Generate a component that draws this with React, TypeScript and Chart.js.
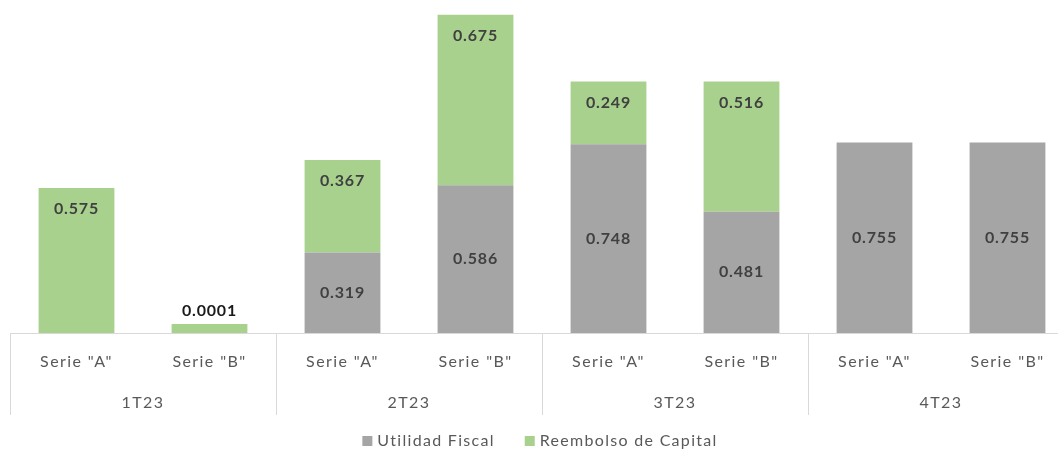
import React, { useEffect, useRef } from "react";
import { Chart, registerables } from "chart.js";

Chart.register(...registerables);

const categories = ['Serie "A"', 'Serie "B"', 'Serie "A"', 'Serie "B"', 'Serie "A"', 'Serie "B"', 'Serie "A"', 'Serie "B"'];
const quarters = ["1T23", "2T23", "3T23", "4T23"];
const utilidadFiscal: (number | null)[] = [null, null, 0.319, 0.586, 0.748, 0.481, 0.755, 0.755];
const reembolsoCapital: (number | null)[] = [0.575, 0.0001, 0.367, 0.675, 0.249, 0.516, null, null];
const seriesNames = ["Utilidad Fiscal", "Reembolso de Capital"];
const seriesColors = ["#a5a5a5", "#a9d18e"];

const FONT = "Lato, 'Open Sans', sans-serif";

const spacingPlugin = {
  id: "letterSpacing",
  beforeDraw(chart: any) {
    (chart.ctx as any).letterSpacing = "1.4px";
  },
};

const labelsPlugin = {
  id: "valueLabels",
  afterDatasetsDraw(chart: any) {
    const ctx = chart.ctx;
    ctx.save();
    ctx.letterSpacing = "0.8px";
    ctx.textAlign = "center";
    ctx.textBaseline = "middle";
    chart.data.datasets.forEach((ds: any, di: number) => {
      const meta = chart.getDatasetMeta(di);
      meta.data.forEach((bar: any, i: number) => {
        const v = ds.data[i];
        if (v == null) return;
        const { x, y, base } = bar.getProps(["x", "y", "base"], true);
        const h = base - y;
        let ty: number;
        if (di === 0) ty = (y + base) / 2;
        else if (h < 30) ty = y - 13;
        else ty = y + 21;
        ctx.fillStyle = h < 30 ? "#1a1a1a" : "#404040";
        ctx.font = `bold 16px ${FONT}`;
        ctx.fillText(String(v), x, ty);
      });
    });
    ctx.restore();
  },
};

const axisPlugin = {
  id: "groupAxis",
  afterDraw(chart: any) {
    const ctx = chart.ctx;
    const { left, right, bottom } = chart.chartArea;
    const catW = (right - left) / categories.length;
    ctx.save();
    ctx.strokeStyle = "#d9d9d9";
    ctx.lineWidth = 1;
    for (let g = 0; g <= quarters.length; g++) {
      const x = Math.round(left + g * 2 * catW) + 0.5;
      ctx.beginPath();
      ctx.moveTo(x, bottom);
      ctx.lineTo(x, bottom + 82);
      ctx.stroke();
    }
    ctx.letterSpacing = "1.4px";
    ctx.fillStyle = "#595959";
    ctx.font = `16px ${FONT}`;
    ctx.textAlign = "center";
    ctx.textBaseline = "middle";
    quarters.forEach((q, g) => {
      ctx.fillText(q, left + (g * 2 + 1) * catW, bottom + 70);
    });
    // legend
    ctx.letterSpacing = "1.3px";
    ctx.textAlign = "left";
    const ly = 441;
    const items = seriesNames.map((n) => ({ n, w: ctx.measureText(n).width }));
    const box = 10;
    const gapBox = 5;
    const gapItem = 30;
    const total = items.reduce((s, it) => s + box + gapBox + it.w, 0) + gapItem * (items.length - 1);
    let cx = (left + right) / 2 - 2 - total / 2;
    items.forEach((it, i) => {
      ctx.fillStyle = seriesColors[i];
      ctx.fillRect(cx, ly - box / 2, box, box);
      cx += box + gapBox;
      ctx.fillStyle = "#595959";
      ctx.fillText(it.n, cx, ly);
      cx += it.w + gapItem;
    });
    ctx.restore();
  },
};

export default function App() {
  const ref = useRef<HTMLCanvasElement>(null);
  useEffect(() => {
    if (!ref.current) return;
    const chart = new Chart(ref.current, {
      type: "bar",
      data: {
        labels: categories,
        datasets: [
          {
            label: seriesNames[0],
            data: utilidadFiscal,
            backgroundColor: seriesColors[0],
            barPercentage: 0.57,
            categoryPercentage: 1,
          },
          {
            label: seriesNames[1],
            data: reembolsoCapital,
            backgroundColor: seriesColors[1],
            barPercentage: 0.57,
            categoryPercentage: 1,
            minBarLength: 9,
          },
        ],
      },
      options: {
        responsive: false,
        animation: false,
        layout: { padding: { left: 10, right: 1, top: 5, bottom: 0 } },
        plugins: { legend: { display: false }, tooltip: { enabled: false } },
        scales: {
          x: {
            stacked: true,
            grid: { display: false, drawTicks: false },
            border: { display: true, color: "#d9d9d9", width: 1 },
            ticks: { color: "#595959", font: { family: FONT, size: 16 }, padding: 19, maxRotation: 0, autoSkip: false },
            afterFit: (scale: any) => {
              scale.height = 117;
            },
          },
          y: { stacked: true, display: false, min: 0, max: 1.3 },
        },
      },
      plugins: [spacingPlugin, labelsPlugin, axisPlugin],
    });
    return () => chart.destroy();
  }, []);
  return (
    <div style={{ position: "absolute", left: 0, top: 0, width: 1058, height: 450, overflow: "hidden", background: "#fff" }}>
      <canvas ref={ref} width={1075} height={450} style={{ display: "block" }} />
    </div>
  );
}
